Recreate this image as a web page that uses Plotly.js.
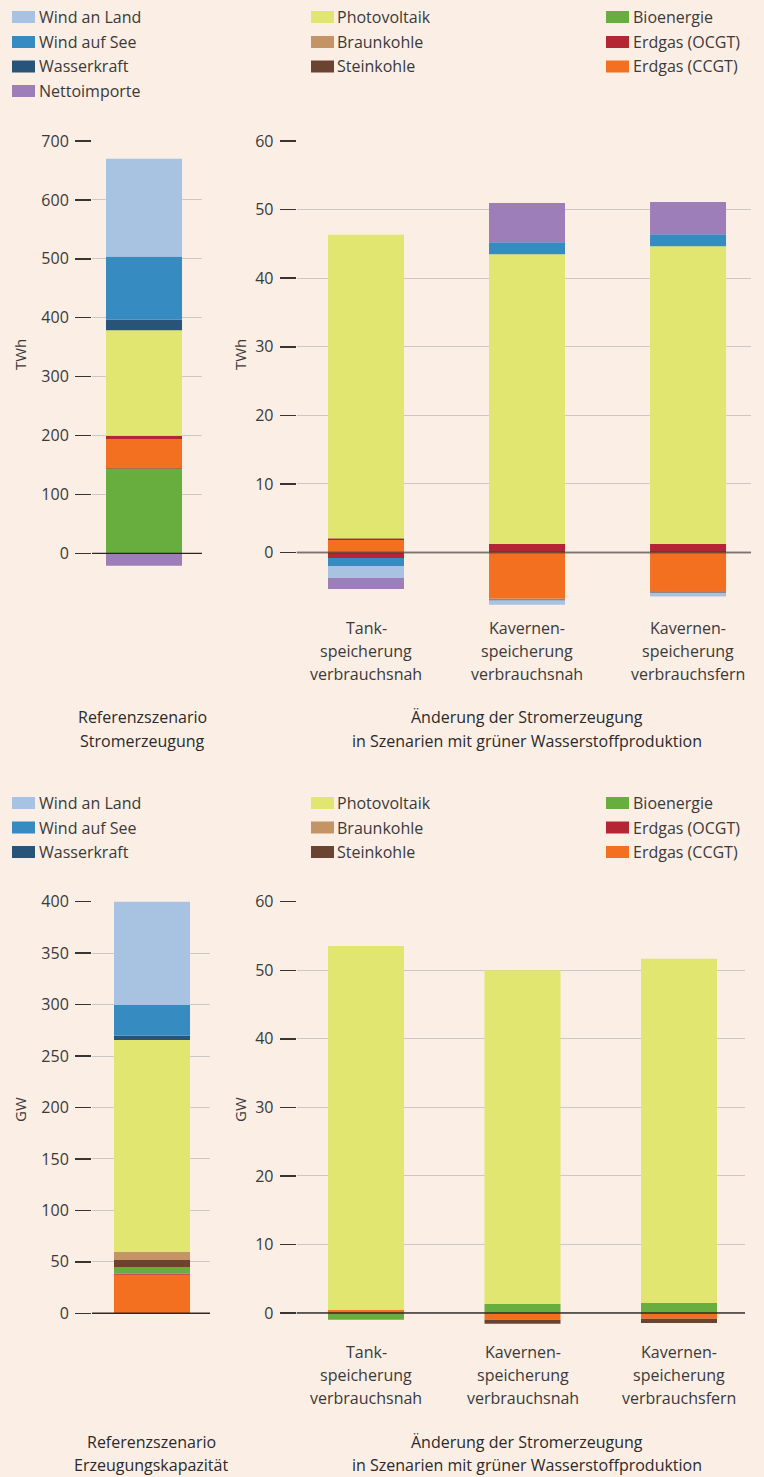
<!DOCTYPE html>
<html>
<head>
<meta charset="utf-8">
<script src="https://cdn.plot.ly/plotly-3.0.1.min.js"></script>
<style>
  html, body { margin: 0; padding: 0; background: #fbeee5; }
  #chart { width: 764px; height: 1477px; }
</style>
</head>
<body>
<div id="chart"></div>
<script>
// ---------------- DATA ----------------
// Top-left: Referenzszenario Stromerzeugung (TWh), stacking order bottom-up
const genRefCategory = ["Referenzszenario"];
const genRefSeries = ["Bioenergie", "Steinkohle", "Erdgas (CCGT)", "Erdgas (OCGT)", "Photovoltaik", "Wasserkraft", "Wind auf See", "Wind an Land", "Nettoimporte"];
const genRefValues = [143, 1.5, 49.5, 5.5, 179, 18.5, 107, 166, -21];

// Top-right: Änderung der Stromerzeugung (TWh)
const scenarios = ["Tank-<br>speicherung<br>verbrauchsnah", "Kavernen-<br>speicherung<br>verbrauchsnah", "Kavernen-<br>speicherung<br>verbrauchsfern"];
const genChgSeries = ["Erdgas (CCGT)", "Erdgas (OCGT)", "Steinkohle", "Braunkohle", "Photovoltaik", "Wasserkraft", "Wind auf See", "Wind an Land", "Nettoimporte"];
const genChgCCGT = [1.82, -6.75, -5.72];
const genChgOCGT = [-0.8, 1.24, 1.24];
const genChgSteinkohle = [0.15, 0, -0.15];
const genChgBraunkohle = [0.15, -0.1, 0];
const genChgPV = [44.2, 42.26, 43.42];
const genChgWasserkraft = [0, -0.15, 0];
const genChgWindSee = [-1.17, 1.75, 1.74];
const genChgWindLand = [-1.75, -0.63, -0.55];
const genChgNetto = [-1.6, 5.7, 4.7];

// Bottom-left: Referenzszenario Erzeugungskapazität (GW)
const capRefCategory = ["Referenzszenario"];
const capRefSeries = ["Erdgas (CCGT)", "Erdgas (OCGT)", "Bioenergie", "Steinkohle", "Braunkohle", "Photovoltaik", "Wasserkraft", "Wind auf See", "Wind an Land"];
const capRefValues = [37.5, 1.0, 6.5, 6.8, 8.1, 205.7, 4.2, 29.8, 101.1];

// Bottom-right: Änderung (GW)
const capChgSeries = ["Bioenergie", "Erdgas (CCGT)", "Steinkohle", "Photovoltaik"];
const capChgBio = [-1.0, 1.31, 1.46];
const capChgCCGT = [0.44, -1.0, -0.83];
const capChgSteinkohle = [0, -0.58, -0.63];
const capChgPV = [53.1, 48.7, 50.2];

// Tick values
const genRefTicks = [0, 100, 200, 300, 400, 500, 600, 700];
const genChgTicks = [0, 10, 20, 30, 40, 50, 60];
const capRefTicks = [0, 50, 100, 150, 200, 250, 300, 350, 400];
const capChgTicks = [0, 10, 20, 30, 40, 50, 60];

// Legend columns
const legendTopCols = [
  ["Wind an Land", "Wind auf See", "Wasserkraft", "Nettoimporte"],
  ["Photovoltaik", "Braunkohle", "Steinkohle"],
  ["Bioenergie", "Erdgas (OCGT)", "Erdgas (CCGT)"]
];
const legendBottomCols = [
  ["Wind an Land", "Wind auf See", "Wasserkraft"],
  ["Photovoltaik", "Braunkohle", "Steinkohle"],
  ["Bioenergie", "Erdgas (OCGT)", "Erdgas (CCGT)"]
];

// ---------------- STYLE ----------------
const colors = {
  "Wind an Land": "#a7c3e1",
  "Wind auf See": "#368bc1",
  "Wasserkraft": "#275478",
  "Nettoimporte": "#9d7eb8",
  "Photovoltaik": "#e1e670",
  "Braunkohle": "#c59465",
  "Steinkohle": "#6a4431",
  "Bioenergie": "#68ae3e",
  "Erdgas (OCGT)": "#b52634",
  "Erdgas (CCGT)": "#f37021"
};
const W = 764, H = 1477;
const px = x => x / W;
const py = y => 1 - y / H;
const FONT = "Open Sans, Noto Sans, sans-serif";
const TXT = "#3a3a3a";
const BG = "#fbeee5";
const GRID = "#cdc8c5";
const TICKC = "#3a3431";

const traces = [];
function addBars(names, valuesFor, xcats, xa, ya, width) {
  names.forEach((n, i) => {
    traces.push({
      type: "bar", name: n, x: xcats, y: valuesFor(n, i),
      xaxis: xa, yaxis: ya, width: width,
      marker: { color: colors[n], line: { width: 0 } },
      showlegend: false, hoverinfo: "skip"
    });
  });
}
addBars(genRefSeries, (n, i) => [genRefValues[i]], genRefCategory, "x", "y", 0.7);
const genChgArrays = [genChgCCGT, genChgOCGT, genChgSteinkohle, genChgBraunkohle, genChgPV, genChgWasserkraft, genChgWindSee, genChgWindLand, genChgNetto];
addBars(genChgSeries, (n, i) => genChgArrays[i], scenarios, "x2", "y2", 0.472);
addBars(capRefSeries, (n, i) => [capRefValues[i]], capRefCategory, "x3", "y3", 0.7);
const capChgArrays = [capChgBio, capChgCCGT, capChgSteinkohle, capChgPV];
addBars(capChgSeries, (n, i) => capChgArrays[i], scenarios, "x4", "y4", 0.4856);

// domains
const topDom = [py(614), py(141)];
const botDom = [py(1337), py(901.7)];

function yax(domain, range, ticks, anchor) {
  return {
    domain: domain, anchor: anchor, range: range, tickvals: ticks,
    ticks: "outside", ticklen: 16, tickwidth: 1.5, tickcolor: TICKC,
    showgrid: true, gridcolor: GRID, gridwidth: 1,
    zeroline: false, showline: false, fixedrange: true,
    ticklabelstandoff: 3,
    tickfont: { family: FONT, size: 16, color: TXT }
  };
}
function xax(domain, range, anchor) {
  return {
    domain: domain, anchor: anchor, type: "category", range: range,
    showgrid: false, zeroline: false, showline: false, ticks: "",
    showticklabels: false, fixedrange: true
  };
}

const annotations = [];
const shapes = [];

// category labels, placed line by line under each scenario bar
function categoryLabels(xref, lineYs) {
  scenarios.forEach(cat => {
    cat.split("<br>").forEach((line, k) => {
      annotations.push({ text: line, x: cat, y: py(lineYs[k]), xref: xref, yref: "paper",
        showarrow: false, xanchor: "center", yanchor: "middle",
        font: { family: FONT, size: 16, color: TXT } });
    });
  });
}
categoryLabels("x2", [628, 651, 674]);
categoryLabels("x4", [1352, 1375, 1398]);

// axis titles
[["TWh", 20, 355], ["TWh", 240, 355], ["GW", 20, 1110], ["GW", 240, 1110]].forEach(a => {
  annotations.push({ text: a[0], x: px(a[1]), y: py(a[2]), xref: "paper", yref: "paper",
    textangle: -90, showarrow: false, xanchor: "center", yanchor: "middle",
    font: { family: FONT, size: 15, color: TXT } });
});

// subtitles (one per line)
[["Referenzszenario", 142, 717], ["Stromerzeugung", 142, 741],
 ["Änderung der Stromerzeugung", 527, 717], ["in Szenarien mit grüner Wasserstoffproduktion", 527, 741],
 ["Referenzszenario", 151, 1442], ["Erzeugungskapazität", 151, 1465],
 ["Änderung der Stromerzeugung", 527, 1442], ["in Szenarien mit grüner Wasserstoffproduktion", 527, 1465]
].forEach(a => {
  annotations.push({ text: a[0], x: px(a[1]), y: py(a[2]), xref: "paper", yref: "paper",
    showarrow: false, xanchor: "center", yanchor: "middle",
    font: { family: FONT, size: 16, color: "#2a2a2a" } });
});

// legends
function buildLegend(cols, rowYs) {
  const swX = [12, 311, 606];
  const txX = [37, 335, 631];
  cols.forEach((col, c) => {
    col.forEach((name, r) => {
      const y = rowYs[r];
      shapes.push({ type: "rect", xref: "paper", yref: "paper",
        x0: px(swX[c]), x1: px(swX[c] + 23), y0: py(y + 6), y1: py(y - 6),
        fillcolor: colors[name], line: { width: 0 } });
      annotations.push({ text: name, x: px(txX[c]), y: py(y), xref: "paper", yref: "paper",
        showarrow: false, xanchor: "left", yanchor: "middle",
        font: { family: FONT, size: 16, color: TXT } });
    });
  });
}
buildLegend(legendTopCols, [17, 42, 66.5, 91]);
buildLegend(legendBottomCols, [803, 827.5, 852]);

// zero lines above bars
[["x", "y", "rgba(35,28,25,0.95)", 1.3], ["x2", "y2", "rgba(55,45,40,0.55)", 1.8],
 ["x3", "y3", "rgba(40,32,28,0.95)", 1.4], ["x4", "y4", "rgba(40,32,28,0.9)", 1.5]].forEach(z => {
  shapes.push({ type: "line", xref: z[0] + " domain", yref: z[1], x0: 0, x1: 1, y0: 0, y1: 0,
    line: { color: z[2], width: z[3] }, layer: "above" });
});

const layout = {
  width: W, height: H,
  margin: { l: 0, r: 0, t: 0, b: 0 },
  paper_bgcolor: BG, plot_bgcolor: BG,
  barmode: "relative",
  showlegend: false,
  font: { family: FONT, size: 16, color: TXT },
  xaxis: xax([px(92), px(202)], [-0.479, 0.534], "y"),
  yaxis: yax(topDom, [-103.06, 700], genRefTicks, "x"),
  xaxis2: xax([px(296.7), px(751)], [-0.4304, 2.391], "y2"),
  yaxis2: yax(topDom, [-8.968, 60], genChgTicks, "x2"),
  xaxis3: xax([px(92), px(210)], [-0.5526, 0.534], "y3"),
  yaxis3: yax(botDom, [-23.03, 400], capRefTicks, "x3"),
  xaxis4: xax([px(296.7), px(745)], [-0.4428, 2.4217], "y4"),
  yaxis4: yax(botDom, [-3.502, 60], capChgTicks, "x4"),
  annotations: annotations,
  shapes: shapes
};

Plotly.newPlot("chart", traces, layout, { staticPlot: true, displayModeBar: false });
</script>
</body>
</html>
